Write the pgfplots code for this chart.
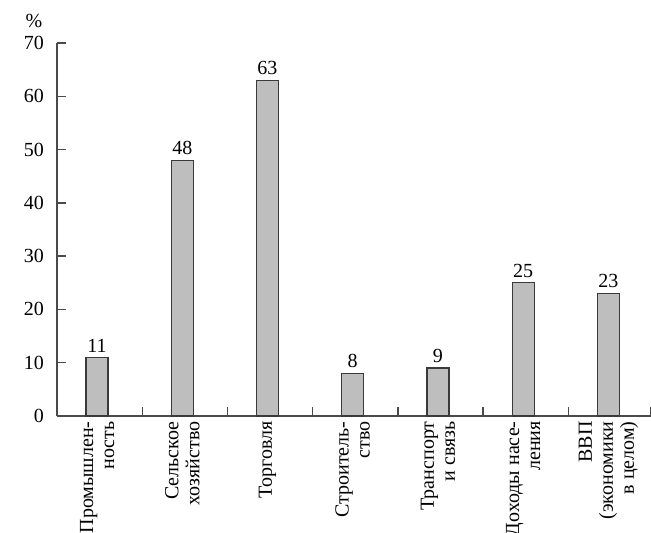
\documentclass[border=0pt]{standalone}
\usepackage{pgfplots}
\pgfplotsset{compat=1.18}
\usepackage{fontspec}
\setmainfont{Liberation Serif}

\definecolor{barfill}{HTML}{BEBEBE}
\definecolor{baredge}{HTML}{3A3A3A}
\definecolor{axisgray}{HTML}{4A4A4A}

\begin{document}
\begin{tikzpicture}[font=\fontsize{10}{10.5}\selectfont]
\begin{axis}[
  name=ax,
  scale only axis,
  width=297pt,
  height=186.5pt,
  xmin=-0.47, xmax=6.5,
  ymin=0, ymax=70,
  ytick={0,10,...,70},
  axis x line*=bottom,
  axis y line*=left,
  axis line style={axisgray, line width=0.6pt},
  tick style={axisgray, line width=0.7pt},
  major tick length=4.5pt,
  xtick=\empty,
  extra x ticks={0,...,6},
  extra x tick labels={{Промышлен-\\ность},{Сельское\\хозяйство},{Торговля},{Строитель-\\ство},{Транспорт\\и связь},{Доходы насе-\\ления},{ВВП\\(экономики\\в целом)}},
  extra x tick style={major tick length=0pt,
    tick label style={rotate=90, anchor=east, align=right, xshift=-1.5pt, inner sep=1pt}},
  yticklabel style={/pgf/number format/assume math mode=true, xshift=-3pt},
  clip=false,
]
% boundary marks between categories (height 1.69 = 4.5pt)
\addplot[ycomb, draw=axisgray, line width=0.7pt, mark=none, forget plot] coordinates {
  (0.53,1.69) (1.53,1.69) (2.53,1.69) (3.53,1.69) (4.53,1.69) (5.53,1.69) (6.5,1.69)
};
\addplot[ybar, bar width=11pt, bar shift=0pt, fill=barfill, draw=baredge, line width=0.6pt,
  nodes near coords,
  nodes near coords style={/pgf/number format/assume math mode=true, yshift=-1pt}] coordinates {
  (0,11) (1,48) (2,63) (3,8) (4,9) (5,25) (6,23)
};
\node[anchor=south, inner sep=0pt] at ([xshift=-11.5pt, yshift=7.5pt]rel axis cs:0,1) {\%};
\end{axis}
\pgfresetboundingbox
\path ([xshift=-28.5pt,yshift=21.5pt]ax.north west) rectangle ([yshift=-58.5pt]ax.south east);
\end{tikzpicture}
\end{document}
